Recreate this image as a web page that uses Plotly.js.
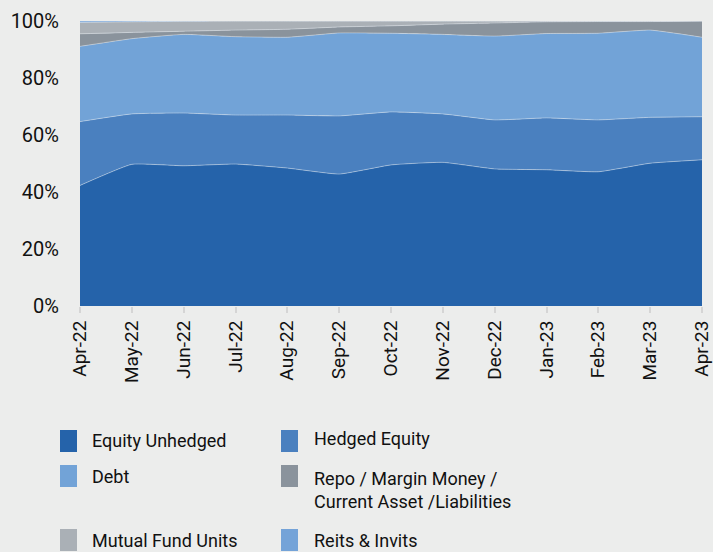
<!DOCTYPE html>
<html><head><meta charset="utf-8">
<script src="https://cdn.plot.ly/plotly-3.0.1.min.js"></script>
<style>html,body{margin:0;padding:0;background:#ECEDEC;}#chart{width:713px;height:552px;}</style>
</head><body><div id="chart"></div>
<script>
const months = ["Apr-22","May-22","Jun-22","Jul-22","Aug-22","Sep-22","Oct-22","Nov-22","Dec-22","Jan-23","Feb-23","Mar-23","Apr-23"];
const equityUnhedged = [42.3,49.7,49.2,49.8,48.4,46.3,49.5,50.4,48.1,47.8,47.1,50.1,51.3];
const hedgedEquity   = [22.4,17.7,18.5,17.2,18.6,20.4,18.6,17.0,17.2,18.2,18.2,16.1,15.1];
const debt           = [26.4,26.4,27.6,27.5,27.3,29.1,27.6,27.9,29.4,29.6,30.4,30.6,27.9];
const repo           = [4.4,2.2,1.1,2.3,2.8,2.1,2.6,3.6,4.6,4.1,4.1,3.0,5.7];
const mutualFunds    = [4.0,3.7,3.5,3.2,2.9,2.1,1.7,1.1,0.7,0.3,0.2,0.2,0.0];
const reits          = [0.5,0.3,0.1,0.0,0.0,0.0,0.0,0.0,0.0,0.0,0.0,0.0,0.0];

const seriesNames = ["Equity Unhedged","Hedged Equity","Debt","Repo / Margin Money /<br>Current Asset /Liabilities","Mutual Fund Units","Reits & Invits"];
const seriesData = [equityUnhedged, hedgedEquity, debt, repo, mutualFunds, reits];
const colors = ["#2563AA","#4A80BF","#72A3D7","#8A939C","#AAB0B6","#74A3D8"];

const FONT = 'Roboto, "Liberation Sans", Arial, sans-serif';

const traces = seriesData.map((v,i)=>({
  type:'scatter', mode:'lines', x:months, y:v, name:seriesNames[i],
  stackgroup:'one', fillcolor:colors[i],
  line:{width:0.8, color:'rgba(230,236,244,0.55)', shape:'spline', smoothing:0.4},
  showlegend:false, hoverinfo:'x+y+name'
}));

// plot-area pixel geometry
const L=80, R=11, T=21, B=246, W=713, H=552;
const pw=W-L-R, ph=H-T-B;
const px=(x)=>(x-L)/pw, py=(y)=>(H-B-y)/ph;

// legend positions (pixels) : [squareX, squareTop, textX, textY]
const legendPos = [
  [60,430,90,440],[281,430,312,438],
  [60,465,90,476],[281,465,312,490],
  [60,529,90,540],[281,529,312,540]
];
const shapes=[], annotations=[];
legendPos.forEach((p,i)=>{
  shapes.push({type:'rect', xref:'paper', yref:'paper',
    x0:px(p[0]), x1:px(p[0]+17), y0:py(p[1]+22), y1:py(p[1]),
    fillcolor:colors[i], line:{width:0}});
  annotations.push({xref:'paper', yref:'paper', x:px(p[2]), y:py(p[3]),
    xanchor:'left', yanchor:'middle', align:'left', showarrow:false,
    text:seriesNames[i], font:{family:FONT, size:18, color:'#111'}});
});

const layout = {
  width:W, height:H,
  paper_bgcolor:'#ECEDEC', plot_bgcolor:'#ECEDEC',
  margin:{l:L, r:R, t:T, b:B, pad:0},
  font:{family:FONT, size:19, color:'#111'},
  xaxis:{type:'category', range:[0,12], tickangle:-90, ticks:'outside', ticklen:6, tickwidth:2,
    tickcolor:'#D5D5D5', showgrid:false, zeroline:false, showline:false,
    tickfont:{family:FONT, size:19, color:'#111'}},
  yaxis:{range:[0,100], dtick:20, ticksuffix:'%', showgrid:false, zeroline:false, showline:false,
    ticks:'', ticklabelstandoff:20, tickfont:{family:FONT, size:20, color:'#111'}},
  shapes:shapes, annotations:annotations, showlegend:false
};
Plotly.newPlot('chart', traces, layout, {displayModeBar:false, staticPlot:true});
</script></body></html>
